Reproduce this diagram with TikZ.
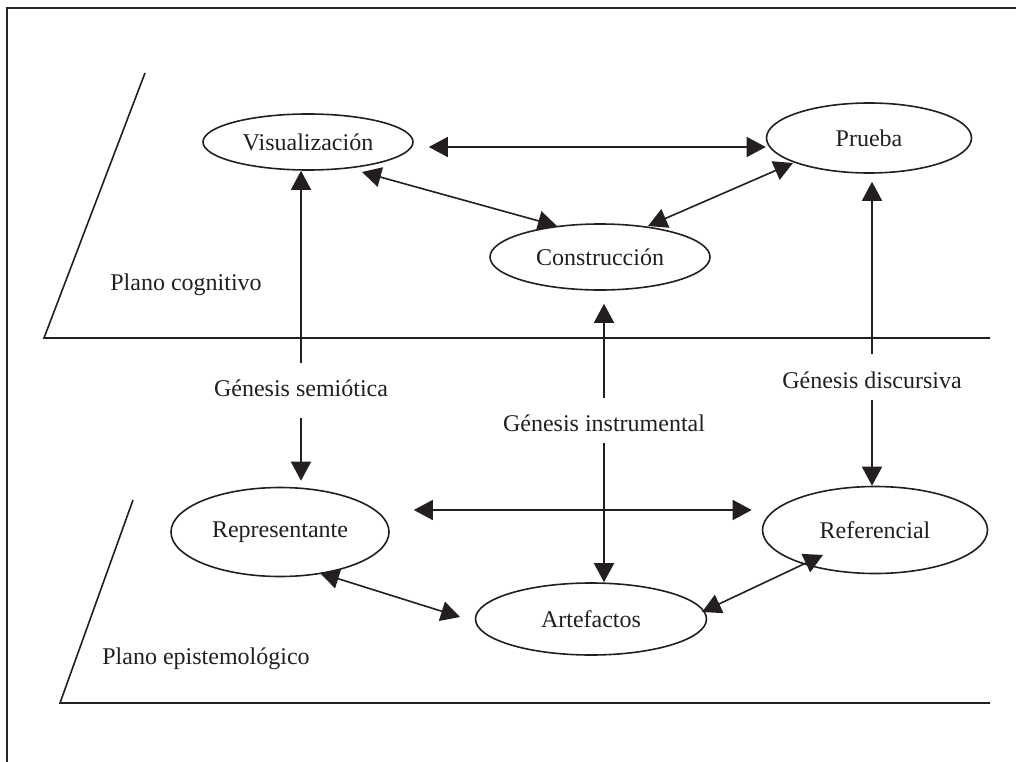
\documentclass[tikz,border=0pt]{standalone}
\usepackage{fontspec}
\setmainfont{Liberation Serif}
\usetikzlibrary{arrows.meta,calc,shapes.geometric}
\definecolor{ink}{HTML}{231F20}
\begin{document}
\begin{tikzpicture}[x=1pt,y=-1pt,
  every node/.style={font=\fontsize{24}{28}\selectfont, text=ink},
  oval/.style={ellipse, draw=ink, line width=1.6pt, inner sep=0pt},
  lab/.style={inner sep=0pt},
  arr/.style={draw=ink, line width=1.6pt, {Triangle[length=19pt,width=20pt]}-{Triangle[length=19pt,width=20pt]}},
  uarr/.style={draw=ink, line width=1.6pt, -{Triangle[length=19pt,width=20pt]}},
  plane/.style={draw=ink, line width=1.6pt}]
\useasboundingbox (0,0) rectangle (1016,762);
\fill[white] (0,0) rectangle (1016,762);
% frame
\draw[black!85, line width=1.2pt] (7,762) -- (7,8) -- (1016,8);
% planes
\draw[plane] (145,73) -- (44,338) -- (990,338);
\draw[plane] (133,500) -- (60,703) -- (990,703);
\node[lab] (pc) at (186,285) {Plano cognitivo};
\node[lab] (pe) at (206,659) {Plano epistemológico};
% ellipses
\node[oval, minimum width=210, minimum height=56] (vis) at (308,142) {Visualización};
\node[oval, minimum width=205, minimum height=70] (pru) at (869,138) {Prueba};
\node[oval, minimum width=220, minimum height=66] (con) at (600,257) {Construcción};
\node[oval, minimum width=218, minimum height=89] (rep) at (280,532) {Representante};
\node[oval, minimum width=225, minimum height=87] (ref) at (875,530) {Referencial};
\node[oval, minimum width=231, minimum height=72] (art) at (591,619) {Artefactos};
% genesis labels
\node[lab] (gsem) at (301,388) {Génesis semiótica};
\node[lab] (gins) at (604,423) {Génesis instrumental};
\node[lab] (gdis) at (872,380) {Génesis discursiva};
% top connectors
\draw[arr] ($(vis.east)+(15,5)$) -- ($(pru.west)+(0,9)$);
\draw[arr] ($(vis)+(54,30)$) -- ($(con)+(-43,-31)$);
\draw[arr] ($(con)+(48,-31)$) -- ($(pru)+(-76,25)$);
% bottom connectors
\draw[arr] ($(rep.east)+(24,-22)$) -- ($(ref.west)+(-10,-20)$);
\draw[arr] ($(rep)+(40,41)$) -- ($(art)+(-131,-2)$);
\draw[arr] ($(art)+(111,-7)$) -- ($(ref)+(-52,25)$);
% genesis verticals
\draw[uarr] ($(gsem.center)+(0,-25)$) -- (gsem.center |- vis.south);
\draw[uarr] ($(gsem.center)+(0,30)$) -- ($(gsem.center |- rep.north)+(0,-6)$);
\draw[uarr] ($(gins.center)+(0,-25)$) -- ($(gins.center |- con.south)+(0,13)$);
\draw[uarr] ($(gins.center)+(0,20)$) -- (gins.center |- art.north);
\draw[uarr] ($(gdis.center)+(0,-26)$) -- ($(gdis.center |- pru.south)+(0,8)$);
\draw[uarr] ($(gdis.center)+(0,20)$) -- (gdis.center |- ref.north);
\end{tikzpicture}
\end{document}
